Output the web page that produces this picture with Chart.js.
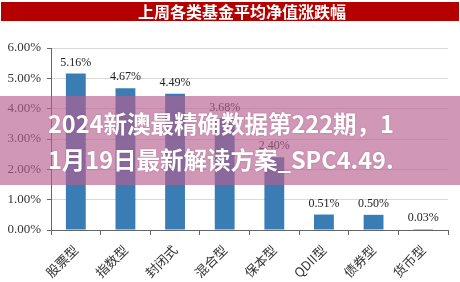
<!DOCTYPE html>
<html>
<head>
<meta charset="utf-8">
<script src="https://cdn.jsdelivr.net/npm/chart.js@4.4.0/dist/chart.umd.min.js"></script>
<style>
body{margin:0;background:#fff;}
#wrap{position:relative;width:460px;height:282px;overflow:hidden;}
#title{position:absolute;left:1px;top:2px;width:434px;padding-left:24px;height:19px;background:#b50000;color:#fff;font:700 16px "Noto Sans CJK SC";text-align:center;line-height:19px;}
#band{position:absolute;left:0;top:96px;width:460px;height:89px;background:rgba(183,95,143,0.65);}
.wm{position:absolute;left:48px;color:#fff;font:700 23.5px "Noto Sans CJK SC";line-height:30px;white-space:nowrap;text-shadow:0 0 2px rgba(80,30,60,0.25);}
</style>
</head>
<body>
<div id="wrap">
  <canvas id="chart" width="460" height="282"></canvas>
  <div id="title">上周各类基金平均净值涨跌幅</div>
  <div id="band"></div>
  <div class="wm" style="top:108px">2024新澳最精确数据第222期，1</div>
  <div class="wm" style="top:144px">1月19日最新解读方案_SPC4.49.</div>
</div>
<script>
// ---------------- DATA ----------------
const categories = ["股票型", "指数型", "封闭式", "混合型", "保本型", "QDII型", "债券型", "货币型"];
const weeklyChange = [5.16, 4.67, 4.49, 3.68, 2.40, 0.51, 0.50, 0.03];
const yTicks = [0, 1, 2, 3, 4, 5, 6];

// value labels above bars
const valueLabels = {
    id: "valueLabels",
    afterDatasetsDraw(chart) {
        const ctx = chart.ctx;
        const meta = chart.getDatasetMeta(0);
        ctx.save();
        ctx.font = '12px "Liberation Serif"';
        ctx.fillStyle = "#222";
        ctx.textAlign = "center";
        ctx.textBaseline = "bottom";
        meta.data.forEach((bar, i) => {
            ctx.fillText(weeklyChange[i].toFixed(2) + "%", bar.x, bar.y - 5);
        });
        ctx.restore();
    }
};

new Chart(document.getElementById("chart"), {
    type: "bar",
    data: {
        labels: categories,
        datasets: [{
            data: weeklyChange,
            backgroundColor: "#3a7db5",
            categoryPercentage: 1,
            barPercentage: 0.4
        }]
    },
    options: {
        responsive: false,
        animation: false,
        devicePixelRatio: 1,
        layout: {
            padding: { top: 48, right: 12, left: 0, bottom: 0 }
        },
        plugins: {
            legend: { display: false },
            tooltip: { enabled: false }
        },
        scales: {
            y: {
                min: 0,
                max: 6,
                afterBuildTicks: axis => {
                    axis.ticks = yTicks.map(v => ({ value: v }));
                },
                afterFit: scale => { scale.width = 51; },
                ticks: {
                    color: "#333",
                    font: { family: "Liberation Serif", size: 13 },
                    padding: 6,
                    callback: value => value.toFixed(2) + "%"
                },
                grid: {
                    color: "#d9d9d9",
                    tickColor: "#666",
                    tickLength: 4
                },
                border: { color: "#666" }
            },
            x: {
                afterFit: scale => { scale.height = 52; },
                ticks: {
                    color: "#333",
                    font: { family: "Noto Sans CJK SC", size: 13 },
                    minRotation: 45,
                    maxRotation: 45,
                    padding: 7
                },
                grid: {
                    drawOnChartArea: false,
                    tickColor: "#666",
                    tickLength: 5
                },
                border: { color: "#666" }
            }
        }
    },
    plugins: [valueLabels]
});
</script>
</body>
</html>
